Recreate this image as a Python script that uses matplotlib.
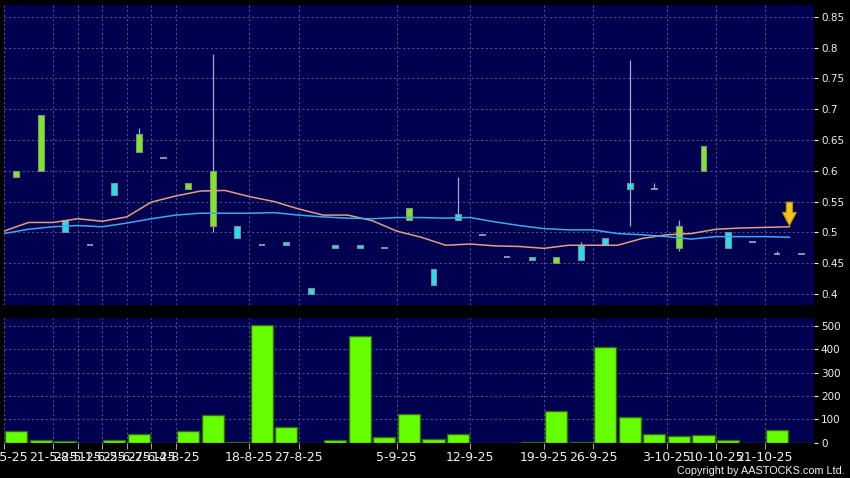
import numpy as np
import matplotlib
matplotlib.use("Agg")
from matplotlib import pyplot as plt

# daily candles (open, high, low, close) + volume
opens = [0.59, 0.60, 0.52, 0.48, 0.58, 0.63, 0.62, 0.57, 0.51, 0.51, 0.48,
         0.485, 0.41, 0.48, 0.48, 0.475, 0.52, 0.44, 0.53, 0.495, 0.46,
         0.46, 0.45, 0.48, 0.49, 0.58, 0.57, 0.475, 0.60, 0.50, 0.485, 0.465, 0.465]
highs = [0.60, 0.69, 0.52, 0.48, 0.58, 0.67, 0.62, 0.58, 0.79, 0.51, 0.48,
         0.485, 0.41, 0.48, 0.48, 0.475, 0.54, 0.44, 0.59, 0.495, 0.46,
         0.46, 0.46, 0.485, 0.49, 0.78, 0.58, 0.52, 0.64, 0.50, 0.485, 0.47, 0.465]
lows = [0.59, 0.60, 0.50, 0.48, 0.56, 0.63, 0.62, 0.57, 0.50, 0.49, 0.48,
        0.48, 0.40, 0.475, 0.475, 0.475, 0.52, 0.415, 0.52, 0.495, 0.46,
        0.455, 0.45, 0.455, 0.48, 0.51, 0.57, 0.47, 0.60, 0.475, 0.485, 0.465, 0.465]
closes = [0.60, 0.69, 0.50, 0.48, 0.56, 0.66, 0.62, 0.58, 0.60, 0.49, 0.48,
          0.48, 0.40, 0.475, 0.475, 0.475, 0.54, 0.415, 0.52, 0.495, 0.46,
          0.455, 0.46, 0.455, 0.48, 0.57, 0.57, 0.51, 0.64, 0.475, 0.485, 0.465, 0.465]
volume = [52, 12, 8, 0, 10, 38, 1, 50, 118, 4, 503,
          68, 0, 10, 458, 25, 122, 15, 37, 1, 1,
          5, 135, 4, 408, 110, 37, 28, 34, 10, 1, 54, 0]

# moving averages (plotted half a slot to the left, as in the source chart)
ma_short = [0.502, 0.516, 0.516, 0.522, 0.518, 0.525, 0.549, 0.559, 0.567, 0.568, 0.558,
            0.550, 0.538, 0.528, 0.528, 0.519, 0.502, 0.492, 0.479, 0.481, 0.478,
            0.477, 0.474, 0.479, 0.479, 0.479, 0.490, 0.496, 0.498, 0.505, 0.507, 0.508, 0.509]
ma_long = [0.498, 0.505, 0.509, 0.511, 0.509, 0.515, 0.522, 0.528, 0.531, 0.531, 0.531,
           0.532, 0.528, 0.525, 0.523, 0.522, 0.524, 0.524, 0.523, 0.524, 0.517,
           0.511, 0.506, 0.504, 0.504, 0.498, 0.496, 0.493, 0.489, 0.493, 0.493, 0.493, 0.492]

tick_idx = [0, 2, 3, 4, 5, 6, 7, 10, 12, 16, 19, 22, 24, 27, 29, 31]
tick_labels = ['14-5-25', '21-5-25', '28-5-25', '11-6-25', '25-6-25', '27-6-25', '14-8-25',
               '18-8-25', '27-8-25', '5-9-25', '12-9-25', '19-9-25', '26-9-25',
               '3-10-25', '10-10-25', '21-10-25']
price_ticks = [0.4, 0.45, 0.5, 0.55, 0.6, 0.65, 0.7, 0.75, 0.8, 0.85]
vol_ticks = [0, 100, 200, 300, 400, 500]

NAVY = '#000050'
GRID = '#62629a'
TXT = '#f0f0f0'

fig = plt.figure(figsize=(8.5, 4.78), dpi=100, facecolor='black')
ax = fig.add_axes([0.0047, 0.3619, 0.9529, 0.6276])
ax2 = fig.add_axes([0.0047, 0.0732, 0.9529, 0.2615])

x = np.arange(len(opens))
gx = [k - 0.5 for k in tick_idx]

for a in (ax, ax2):
    a.set_facecolor(NAVY)
    for s in a.spines.values():
        s.set_visible(False)
    a.set_xlim(-0.5, 32.5)
    a.yaxis.tick_right()
    a.tick_params(axis='y', colors=TXT, labelsize=7.5, length=3, pad=2, width=0.8)
    a.tick_params(axis='x', colors='#a0a0a0', length=4, width=0.8, pad=2)
    a.set_xticks(gx)
    a.grid(True, color=GRID, linestyle=(0, (2.5, 3)), linewidth=0.6)
    a.set_axisbelow(True)

# candles
for i in x:
    o, h, l, c = opens[i], highs[i], lows[i], closes[i]
    if h > l:
        ax.vlines(i, l, h, color='#a8a8c8', linewidth=0.9, zorder=2)
    if c == o:
        ax.hlines(o, i - 0.13, i + 0.13, color='#a8a8c0', linewidth=1.2, zorder=3)
    else:
        col = '#7ee820' if c > o else '#22e0f0'
        ax.bar(i, abs(c - o), bottom=min(o, c), width=0.24, color=col,
               edgecolor='#8a8a8a', linewidth=0.8, zorder=3)

ax.plot(x - 0.5, ma_short, color='#e0a07c', linewidth=1.1, zorder=4)
ax.plot(x - 0.5, ma_long, color='#3fa8ec', linewidth=1.1, zorder=4)

# marker arrow on latest value
ax.annotate('', xy=(31.5, 0.511), xytext=(31.5, 0.549),
            arrowprops=dict(arrowstyle='simple,head_length=0.95,head_width=1.0,tail_width=0.45',
                            mutation_scale=10, fc='#f5c518', ec='#c08a10', lw=0.8,
                            shrinkA=0, shrinkB=0), zorder=5)

ax.set_ylim(0.382, 0.869)
ax.set_yticks(price_ticks)
ax.set_yticklabels(['0.4', '0.45', '0.5', '0.55', '0.6', '0.65', '0.7', '0.75', '0.8', '0.85'])
ax.tick_params(axis='x', length=0, labelbottom=False)

# volume
ax2.bar(x, volume, width=0.9, color='#66ff00', edgecolor='#2e6a10', linewidth=1, zorder=3)
ax2.set_ylim(-1, 534)
ax2.set_yticks(vol_ticks)
ax2.set_xticklabels(tick_labels, fontsize=9, color=TXT)

fig.text(0.994, 0.0146, 'Copyright by AASTOCKS.com Ltd.', color=TXT, fontsize=7.8,
         family='Liberation Sans', ha='right', va='center')

fig.savefig('out.png', dpi=100, facecolor='black')
